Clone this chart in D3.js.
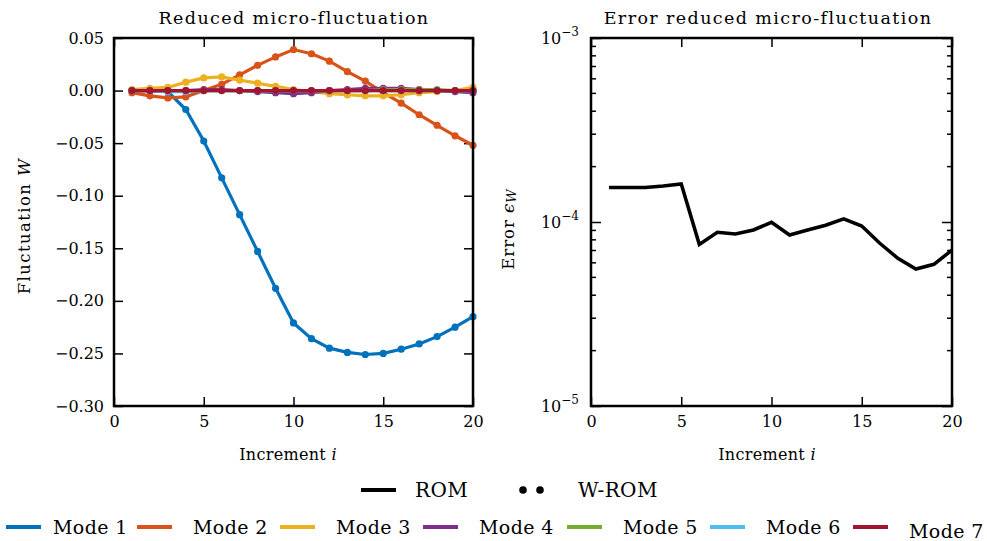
<!DOCTYPE html>
<html>
<head>
<meta charset="utf-8">
<script src="https://cdn.jsdelivr.net/npm/d3@7"></script>
<style>
  body { margin: 0; background: #fff; }
  text { font-family: "DejaVu Serif", serif; fill: #000; }
</style>
</head>
<body>
<script>
// data
const increments = d3.range(1, 21);
const modeNames = ["Mode 1", "Mode 2", "Mode 3", "Mode 4", "Mode 5", "Mode 6", "Mode 7"];
const modeColors = ["#0072BD", "#D95319", "#EDB120", "#7E2F8E", "#77AC30", "#4DBEEE", "#A2142F"];

const mode1 = [0.000, 0.000, -0.001, -0.018, -0.048, -0.083, -0.118, -0.153, -0.188, -0.221,
               -0.236, -0.245, -0.249, -0.251, -0.250, -0.246, -0.241, -0.234, -0.225, -0.215];
const mode2 = [-0.002, -0.005, -0.007, -0.006, 0.000, 0.006, 0.015, 0.024, 0.032, 0.039,
               0.035, 0.028, 0.018, 0.009, -0.002, -0.012, -0.023, -0.033, -0.043, -0.052];
const mode3 = [0.001, 0.002, 0.003, 0.008, 0.012, 0.013, 0.010, 0.007, 0.004, 0.001,
               -0.001, -0.003, -0.004, -0.005, -0.005, -0.004, -0.002, -0.001, 0.000, 0.003];
const mode4 = [0.000, 0.000, 0.000, 0.000, 0.001, 0.001, 0.000, -0.001, -0.002, -0.003,
               -0.002, 0.000, 0.001, 0.002, 0.002, 0.002, 0.001, 0.000, -0.001, -0.002];
const mode5 = [0.000, 0.000, 0.000, 0.000, 0.000, 0.000, 0.000, 0.000, 0.000, 0.000,
               0.000, 0.000, 0.000, 0.000, 0.001, 0.001, 0.001, 0.001, 0.000, 0.000];
const mode6 = [0.000, 0.000, -0.001, -0.001, 0.000, 0.000, 0.000, 0.000, 0.000, 0.000,
               0.000, 0.000, 0.000, 0.000, 0.000, 0.000, 0.000, 0.000, 0.000, 0.000];
const mode7 = [0.000, 0.000, 0.000, 0.000, 0.000, 0.000, 0.000, 0.000, 0.000, 0.000,
               0.000, 0.000, 0.000, 0.000, 0.000, 0.000, 0.000, 0.000, 0.000, 0.000];
const modes = [mode1, mode2, mode3, mode4, mode5, mode6, mode7];

const errorW = [1.54e-4, 1.54e-4, 1.54e-4, 1.57e-4, 1.61e-4, 7.56e-5, 8.8e-5, 8.6e-5, 9.05e-5, 9.96e-5,
                8.5e-5, 9.05e-5, 9.6e-5, 1.04e-4, 9.5e-5, 7.66e-5, 6.35e-5, 5.55e-5, 5.89e-5, 7.04e-5];

const xTicks = [0, 5, 10, 15, 20];
const yTicksLeft = [0.05, 0.00, -0.05, -0.10, -0.15, -0.20, -0.25, -0.30];
const yTicksRight = [1e-3, 1e-4, 1e-5];

const svg = d3.select("body").append("svg")
  .attr("width", 987).attr("height", 541);

const plotTop = 38, plotBottom = 406;
const fmtMinus = d => (d < 0 ? "\u2212" : "") + Math.abs(d).toFixed(2);

// left panel
const xL = d3.scaleLinear().domain([0, 20]).range([114, 473]);
const yL = d3.scaleLinear().domain([-0.30, 0.05]).range([plotBottom, plotTop]);

// right panel
const xR = d3.scaleLinear().domain([0, 20]).range([591, 952]);
const yR = d3.scaleLog().domain([1e-5, 1e-3]).range([plotBottom, plotTop]);

function frame(x) {
  svg.append("rect")
    .attr("x", x.range()[0]).attr("y", plotTop)
    .attr("width", x.range()[1] - x.range()[0]).attr("height", plotBottom - plotTop)
    .attr("fill", "none").attr("stroke", "#000").attr("stroke-width", 2.5);
}

function styleAxis(g) {
  g.select(".domain").remove();
  g.selectAll(".tick line").attr("stroke", "#000").attr("stroke-width", 1.5);
  g.selectAll(".tick text").attr("font-size", 16).attr("font-family", "DejaVu Serif");
}

// left x axes
svg.append("g").attr("transform", `translate(0,${plotBottom})`)
  .call(d3.axisBottom(xL).tickValues(xTicks).tickSize(-9).tickPadding(10))
  .call(styleAxis);
svg.append("g").attr("transform", `translate(0,${plotTop})`)
  .call(d3.axisTop(xL).tickValues(xTicks).tickSize(-9).tickFormat(""))
  .call(styleAxis);
svg.append("g").attr("transform", `translate(${xL.range()[0]},0)`)
  .call(d3.axisLeft(yL).tickValues(yTicksLeft).tickSize(-9).tickPadding(10).tickFormat(fmtMinus))
  .call(styleAxis);
svg.append("g").attr("transform", `translate(${xL.range()[1]},0)`)
  .call(d3.axisRight(yL).tickValues(yTicksLeft).tickSize(-9).tickFormat(""))
  .call(styleAxis);

// right x axes
svg.append("g").attr("transform", `translate(0,${plotBottom})`)
  .call(d3.axisBottom(xR).tickValues(xTicks).tickSize(-9).tickPadding(10))
  .call(styleAxis);
svg.append("g").attr("transform", `translate(0,${plotTop})`)
  .call(d3.axisTop(xR).tickValues(xTicks).tickSize(-9).tickFormat(""))
  .call(styleAxis);

// log minor ticks
const minorR = [];
[1e-5, 1e-4].forEach(b => d3.range(2, 10).forEach(k => minorR.push(b * k)));
[[xR.range()[0], 1], [xR.range()[1], -1]].forEach(([px, dir]) => {
  svg.append("g").selectAll("line").data(minorR).join("line")
    .attr("x1", px).attr("x2", px + dir * 5)
    .attr("y1", d => yR(d)).attr("y2", d => yR(d))
    .attr("stroke", "#000").attr("stroke-width", 1.5);
});
svg.append("g").attr("transform", `translate(${xR.range()[0]},0)`)
  .call(d3.axisLeft(yR).tickValues(yTicksRight).tickSize(-10).tickFormat(""))
  .call(styleAxis);
svg.append("g").attr("transform", `translate(${xR.range()[1]},0)`)
  .call(d3.axisRight(yR).tickValues(yTicksRight).tickSize(-10).tickFormat(""))
  .call(styleAxis);
// 10^n labels
const expLab = svg.append("g").selectAll("text").data(yTicksRight).join("text")
  .attr("x", xR.range()[0] - 12).attr("y", d => yR(d) + 6)
  .attr("text-anchor", "end").attr("font-size", 16);
expLab.append("tspan").text("10");
expLab.append("tspan").attr("dy", -8).attr("font-size", 12)
  .text(d => "\u2212" + Math.round(-Math.log10(d)));

// lines left
const lineL = d3.line().x((d, i) => xL(increments[i])).y(d => yL(d));
modes.forEach((m, k) => {
  svg.append("path").datum(m)
    .attr("d", lineL).attr("fill", "none")
    .attr("stroke", modeColors[k]).attr("stroke-width", 3.2);
  svg.append("g").selectAll("circle").data(m).join("circle")
    .attr("cx", (d, i) => xL(increments[i])).attr("cy", d => yL(d))
    .attr("r", 3.6).attr("fill", modeColors[k]);
});

// line right
svg.append("path").datum(errorW)
  .attr("d", d3.line().x((d, i) => xR(increments[i])).y(d => yR(d)))
  .attr("fill", "none").attr("stroke", "#000").attr("stroke-width", 3.5)
  .attr("stroke-linejoin", "miter");

frame(xL);
frame(xR);

// titles
svg.append("text").attr("x", 294).attr("y", 24).attr("text-anchor", "middle")
  .attr("font-size", 17.5).attr("letter-spacing", 1.4).text("Reduced micro-fluctuation");
svg.append("text").attr("x", 768).attr("y", 24).attr("text-anchor", "middle")
  .attr("font-size", 17.5).attr("letter-spacing", 1.4).text("Error reduced micro-fluctuation");

// axis labels
[288, 767].forEach(cx => {
  const t = svg.append("text").attr("x", cx).attr("y", 460).attr("text-anchor", "middle")
    .attr("font-size", 16).attr("letter-spacing", 0.3);
  t.append("tspan").text("Increment ");
  t.append("tspan").attr("font-style", "italic").text("i");
});
const yl = svg.append("text").attr("transform", "translate(30,226) rotate(-90)")
  .attr("text-anchor", "middle").attr("font-size", 16.5).attr("letter-spacing", 1.4);
yl.append("tspan").text("Fluctuation ");
yl.append("tspan").attr("font-style", "italic").text("W");
const yr = svg.append("text").attr("transform", "translate(514,229) rotate(-90)")
  .attr("text-anchor", "middle").attr("font-size", 16.5).attr("letter-spacing", 1);
yr.append("tspan").text("Error ");
yr.append("tspan").attr("font-style", "italic").text("\u03f5");
yr.append("tspan").attr("font-style", "italic").attr("font-size", 13).attr("dy", 2).text("W");

// legend row 1
const leg = svg.append("g");
leg.append("line").attr("x1", 361).attr("x2", 396).attr("y1", 490).attr("y2", 490)
  .attr("stroke", "#000").attr("stroke-width", 4);
leg.append("text").attr("x", 415).attr("y", 497).attr("font-size", 20).attr("letter-spacing", 0.4).text("ROM");
[523, 540].forEach(cx => leg.append("circle").attr("cx", cx).attr("cy", 490).attr("r", 3.8).attr("fill", "#000"));
leg.append("text").attr("x", 578).attr("y", 497).attr("font-size", 20).attr("letter-spacing", 0.4).text("W-ROM");

// legend row 2
const legX = [6, 137, 280, 423, 567, 710, 853];
modeNames.forEach((name, k) => {
  leg.append("line").attr("x1", legX[k]).attr("x2", legX[k] + 35).attr("y1", 527).attr("y2", 527)
    .attr("stroke", modeColors[k]).attr("stroke-width", 4);
  leg.append("text").attr("x", legX[k] + (k === 0 ? 47 : 56)).attr("y", k === 6 ? 538 : 534)
    .attr("font-size", 19).attr("letter-spacing", 0.4).text(name);
});
</script>
</body>
</html>
